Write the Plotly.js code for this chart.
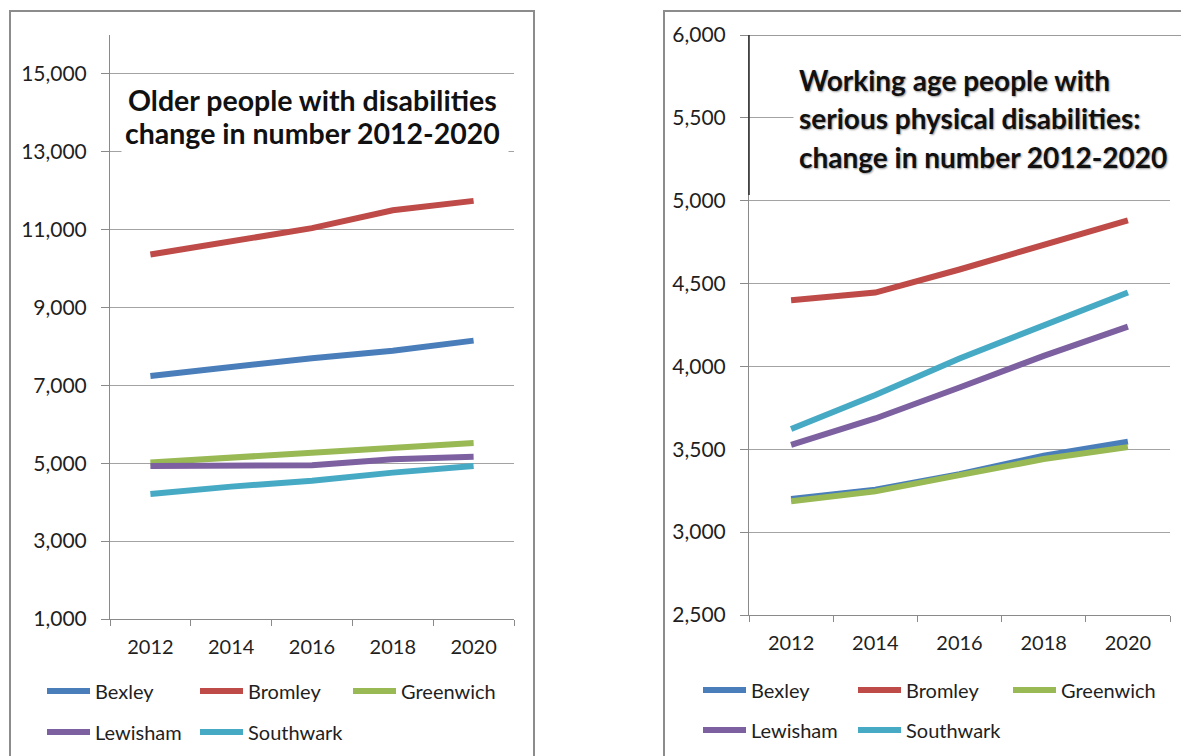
<!DOCTYPE html>
<html>
<head>
<meta charset="utf-8">
<script src="https://cdn.plot.ly/plotly-3.0.1.min.js"></script>
<style>
  html, body { margin: 0; padding: 0; background: #ffffff; }
  #chart { width: 1181px; height: 756px; }
</style>
</head>
<body>
<div id="chart"></div>
<script>
// ---- Data ----
var years = ['2012', '2014', '2016', '2018', '2020'];
var boroughs = ['Bexley', 'Bromley', 'Greenwich', 'Lewisham', 'Southwark'];
var colors = ['#4A7EBB', '#BE4B48', '#98B954', '#7D60A0', '#46AAC5'];

// Older people with disabilities
var bexleyOlder    = [7240, 7470, 7700, 7890, 8150];
var bromleyOlder   = [10360, 10710, 11040, 11500, 11740];
var greenwichOlder = [5020, 5150, 5250, 5400, 5520];
var lewishamOlder  = [4930, 4950, 4950, 5100, 5170];
var southwarkOlder = [4210, 4400, 4550, 4760, 4930];

// Working age people with serious physical disabilities
var bexleyWorking    = [3200, 3256, 3350, 3461, 3546];
var bromleyWorking   = [4400, 4446, 4585, 4730, 4882];
var greenwichWorking = [3186, 3246, 3344, 3441, 3513];
var lewishamWorking  = [3527, 3686, 3873, 4064, 4240];
var southwarkWorking = [3622, 3827, 4048, 4245, 4446];

var olderSeries = [bexleyOlder, bromleyOlder, greenwichOlder, lewishamOlder, southwarkOlder];
var workingSeries = [bexleyWorking, bromleyWorking, greenwichWorking, lewishamWorking, southwarkWorking];

var leftTitleLines = ['Older people with disabilities', 'change in number 2012-2020'];
var rightTitleLines = ['Working age people with', 'serious physical disabilities:', 'change in number 2012-2020'];

// ---- Layout helpers ----
var W = 1181, H = 756;
function px(x) { return x / W; }
function py(y) { return 1 - y / H; }

var FONT = 'Lato, "Open Sans", sans-serif';
var TXT = '#1f1f1f';
var AXC = '#8a8a8a';
var GRIDC = '#a3a3a3';

var traces = [];
for (var i = 0; i < boroughs.length; i++) {
  traces.push({
    type: 'scatter', mode: 'lines',
    x: years, y: olderSeries[i], name: boroughs[i],
    xaxis: 'x', yaxis: 'y',
    line: { color: colors[i], width: 6 },
    legend: i < 3 ? 'legend' : 'legend2'
  });
}
for (var j = 0; j < boroughs.length; j++) {
  traces.push({
    type: 'scatter', mode: 'lines',
    x: years, y: workingSeries[j], name: boroughs[j],
    xaxis: 'x2', yaxis: 'y2',
    line: { color: colors[j], width: 6 },
    legend: j < 3 ? 'legend3' : 'legend4'
  });
}

function xAxis(domain) {
  return {
    domain: domain, type: 'category', range: [-0.5, 4.5],
    tickson: 'boundaries', ticks: 'outside', ticklen: 6, tickcolor: AXC,
    showline: true, linecolor: AXC, linewidth: 1, showgrid: false, zeroline: false,
    tickfont: { family: FONT, size: 20, color: TXT }, ticklabelstandoff: 10,
    fixedrange: true
  };
}
function yAxis(domain, range, tick0, dtick, anchor) {
  return {
    domain: domain, range: range, tick0: tick0, dtick: dtick, tickmode: 'linear',
    tickformat: ',d', ticks: 'outside', ticklen: 8, tickcolor: AXC,
    showline: true, linecolor: AXC, linewidth: 1,
    showgrid: true, gridcolor: GRIDC, gridwidth: 1, zeroline: false,
    tickfont: { family: FONT, size: 21, color: TXT }, ticklabelstandoff: 10,
    anchor: anchor, fixedrange: true
  };
}

function legendAt(x, y, ew) {
  return {
    orientation: 'h', x: x, y: y, xanchor: 'left', yanchor: 'middle',
    entrywidth: ew, entrywidthmode: 'pixels', itemwidth: 43,
    font: { family: FONT, size: 20, color: TXT }, bgcolor: 'rgba(0,0,0,0)',
    borderwidth: 0, tracegroupgap: 0
  };
}

var annotations = [];
// Left title box + lines
annotations.push({
  xref: 'paper', yref: 'paper', x: px(121), y: py(80), xanchor: 'left', yanchor: 'top',
  width: 386, height: 78, bgcolor: '#ffffff', text: ' ', showarrow: false, borderpad: 0
});
var leftTitleY = [100, 133];
for (var k = 0; k < leftTitleLines.length; k++) {
  annotations.push({
    xref: 'paper', yref: 'paper', x: px(312), y: py(leftTitleY[k]), xanchor: 'center', yanchor: 'middle',
    text: leftTitleLines[k], showarrow: false,
    font: { family: FONT, size: 28.5, color: '#111111', weight: 700 }
  });
}
// Right title box + lines
annotations.push({
  xref: 'paper', yref: 'paper', x: px(793), y: py(40), xanchor: 'left', yanchor: 'top',
  width: 395, height: 155, bgcolor: '#ffffff', text: ' ', showarrow: false, borderpad: 0
});
var rightTitleY = [80, 118, 157];
for (var m = 0; m < rightTitleLines.length; m++) {
  annotations.push({
    xref: 'paper', yref: 'paper', x: px(797), y: py(rightTitleY[m]), xanchor: 'left', yanchor: 'middle',
    text: rightTitleLines[m], showarrow: false,
    font: { family: FONT, size: 28, color: '#111111', weight: 700, shadow: '1px 1px 2px #9a9a9a' }
  });
}

var shapes = [
  // chart frames
  { type: 'rect', xref: 'paper', yref: 'paper', x0: px(10), x1: px(534), y0: py(780), y1: py(11),
    line: { color: '#8c8c8c', width: 2 }, fillcolor: 'rgba(0,0,0,0)', layer: 'below' },
  { type: 'rect', xref: 'paper', yref: 'paper', x0: px(664), x1: px(1200), y0: py(780), y1: py(11),
    line: { color: '#8c8c8c', width: 2 }, fillcolor: 'rgba(0,0,0,0)', layer: 'below' },
  // dark title frame edges on the right chart
  { type: 'line', xref: 'x2 domain', yref: 'y2', x0: 0, x1: 1.05, y0: 6000, y1: 6000,
    line: { color: '#3a3a3a', width: 1 } },
  { type: 'line', xref: 'x2 domain', yref: 'y2', x0: 0, x1: 0, y0: 6000, y1: 5035,
    line: { color: '#2a2a2a', width: 1.5 } }
];

var layout = {
  width: W, height: H,
  margin: { l: 0, r: 0, t: 0, b: 0 },
  paper_bgcolor: '#ffffff', plot_bgcolor: 'rgba(0,0,0,0)',
  showlegend: true,
  xaxis: xAxis([px(110), px(514)]),
  yaxis: yAxis([py(619), py(35)], [1000, 16000], 1000, 2000, 'x'),
  xaxis2: xAxis([px(749), px(1170)]),
  yaxis2: yAxis([py(615), py(35)], [2500, 6000], 2500, 500, 'x2'),
  legend: legendAt(px(42), py(691), 95),
  legend2: legendAt(px(42), py(732), 95),
  legend3: legendAt(px(698), py(690), 97),
  legend4: legendAt(px(698), py(730), 97),
  annotations: annotations,
  shapes: shapes
};
layout.xaxis.anchor = 'y';
layout.xaxis2.anchor = 'y2';

Plotly.newPlot('chart', traces, layout, { staticPlot: true, displayModeBar: false });
</script>
</body>
</html>
